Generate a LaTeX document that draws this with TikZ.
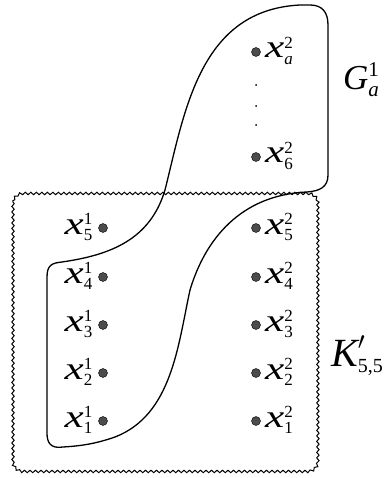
\documentclass[tikz,border=0pt]{standalone}
\usepackage{amsmath}
\usepackage{graphicx}
\usepackage{fontspec}
\setmainfont{Liberation Serif}
\usetikzlibrary{decorations.pathmorphing}
\tikzset{
  vtx/.style={circle,fill=black!70,draw=black,line width=0.4pt,inner sep=0pt,minimum size=9pt},
  tick/.style={circle,fill=black,inner sep=0pt,minimum size=2pt},
  lbl/.style={inner sep=0pt,font=\fontsize{32}{35}\selectfont},
  wavy/.style={line width=1pt,decorate,
    decoration={snake,segment length=5.5pt,amplitude=1.2pt}},
}
\newcommand{\scr}{\fontsize{17}{17}\selectfont}
\newcommand{\xv}[2]{$\text{\scalebox{1.35}[1]{\itshape x}}^{\text{\scr #2}}_{\text{\scr #1}}$}

\begin{document}
\begin{tikzpicture}[x=1pt,y=-1pt]
  \useasboundingbox (0,0) rectangle (385,478);
  % K'_{5,5}: wavy box
  \draw[wavy]
    (13pt,-202pt) -- (13pt,-460pt) arc[start angle=180,end angle=270,radius=10pt]
    -- (308pt,-470pt) arc[start angle=270,end angle=360,radius=10pt]
    -- (318pt,-202pt) arc[start angle=0,end angle=90,radius=10pt]
    -- (23pt,-192pt) arc[start angle=90,end angle=180,radius=10pt] -- cycle;
  % G^1_a: the bag
  \draw[line width=1.3pt]
    (328,25) -- (328,175) .. controls (328,187) and (320,191) .. (307,192)
    .. controls (240,195) and (205,240) .. (190,290)
    .. controls (178,345) and (172,415) .. (115,437)
    .. controls (95,444) and (80,446) .. (63,447)
    .. controls (50,449) and (47,442) .. (47,433) -- (47,277)
    .. controls (47,265) and (52,263) .. (62,262)
    .. controls (110,255) and (150,240) .. (165,190)
    .. controls (185,110) and (200,10) .. (300,5) -- (310,5)
    .. controls (322,5) and (328,12) .. (328,25) -- cycle;
  % vertices
  \foreach \i/\y in {1/421,2/373,3/325,4/277,5/228}{
    \node[vtx] (l\i) at (103,\y) {};
    \node[lbl,anchor=base east] (tl\i) at (93,\y+6) {\xv{\i}{1}};
    \node[vtx] (r\i) at (256,\y) {};
    \node[lbl,anchor=base west] (tr\i) at (265,\y+6) {\xv{\i}{2}};
  }
  \node[vtx] (r6) at (256,157) {};
  \node[lbl,anchor=base west] (tr6) at (265,163) {\xv{6}{2}};
  \node[vtx] (ra) at (256,52) {};
  \node[lbl,anchor=base west] (tra) at (265,58) {\xv{\itshape a}{2}};
  \foreach \y in {85,106,125}
    \node[tick] (d\y) at (256,\y) {};
  % names
  \node[lbl,anchor=base west,font=\fontsize{35}{38}\selectfont] (gname) at (343,90)
    {$\text{\itshape G}^{\text{\fontsize{21}{21}\selectfont 1}}_{\text{\fontsize{21}{21}\selectfont\itshape a}}$};
  \node[lbl,anchor=base west,font=\fontsize{40}{44}\selectfont] (kname) at (331,366)
    {$\text{\itshape K}'_{\text{\fontsize{20}{20}\selectfont 5,5}}$};
\end{tikzpicture}
\end{document}
